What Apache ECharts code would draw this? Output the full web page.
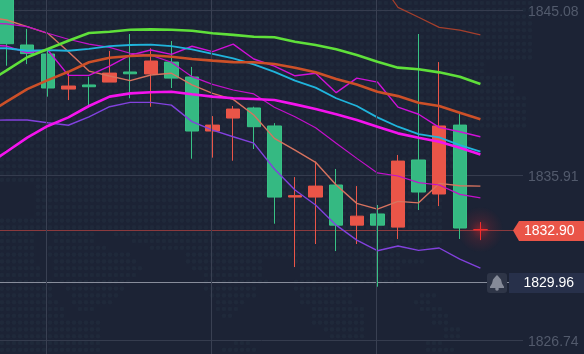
<!DOCTYPE html>
<html><head><meta charset="utf-8">
<style>html,body{margin:0;padding:0;background:#1c2335}#c{width:584px;height:354px}</style>
<script src="https://cdn.jsdelivr.net/npm/echarts@6/dist/echarts.min.js"></script>
</head><body><div id="c"></div>
<script>
const yTop = 1845.66, yBottom = 1825.99;
const tickValues = [1845.08, 1835.91, 1826.74];
const lastPrice = 1832.90;
const alertPrice = 1829.96;
const crossCandles = [3, 11, 19];
const categories = ['c0','c1','c2','c3','c4','c5','c6','c7','c8','c9','c10','c11','c12','c13','c14','c15','c16','c17','c18','c19','c20','c21','c22','c23','c24'];
// open, close, low, high
const candles = ['-',
 [1845.94,1843.23,1842.01,1846.22],[1843.16,1842.68,1842.10,1844.05],[1842.66,1840.77,1840.29,1842.94],
 [1840.71,1840.88,1840.10,1841.67],[1840.94,1840.84,1839.77,1841.40],[1841.10,1841.60,1841.10,1842.83],
 [1841.66,1841.56,1840.20,1843.77],[1841.55,1842.27,1839.73,1842.98],[1842.21,1841.32,1840.77,1843.38],
 [1841.38,1838.38,1836.84,1841.94],[1838.38,1838.71,1836.90,1839.21],[1839.10,1839.60,1836.73,1839.77],
 [1839.66,1838.62,1837.38,1839.73],[1838.66,1834.71,1833.23,1838.82],[1834.71,1834.79,1830.82,1835.82],
 [1834.71,1835.32,1832.10,1836.69],[1835.38,1833.15,1831.71,1836.27],[1833.15,1833.65,1832.10,1835.32],
 [1833.77,1833.15,1829.73,1834.27],[1833.04,1836.71,1832.38,1837.05],[1836.77,1834.99,1833.99,1843.77],
 [1834.88,1838.66,1834.21,1842.21],[1838.71,1832.99,1832.38,1839.32],[1832.90,1832.90,1832.32,1833.32]];
const maGreen = [1841.05,1841.75,1842.48,1842.94,1843.40,1843.83,1843.90,1844.01,1844.03,1844.01,1843.95,1843.81,1843.72,1843.62,1843.59,1843.34,1843.16,1842.92,1842.60,1842.23,1841.90,1841.81,1841.64,1841.40,1840.99];
const maOrange = [1839.31,1840.01,1840.71,1841.21,1841.67,1842.20,1842.45,1842.55,1842.59,1842.51,1842.38,1842.29,1842.21,1842.20,1842.10,1841.90,1841.64,1841.27,1840.97,1840.56,1840.32,1839.95,1839.77,1839.40,1839.03];
const maCyan = [1842.98,1842.98,1842.84,1842.88,1842.84,1842.95,1843.10,1843.16,1843.18,1843.10,1842.92,1842.66,1842.42,1842.08,1841.67,1841.18,1840.79,1840.20,1839.77,1839.14,1838.62,1838.21,1838.03,1837.60,1837.23];
const maMagenta = [1836.46,1837.23,1838.01,1838.66,1839.14,1839.77,1840.29,1840.47,1840.53,1840.56,1840.42,1840.29,1840.20,1840.16,1840.10,1839.86,1839.60,1839.31,1838.99,1838.62,1838.25,1838.01,1837.78,1837.45,1837.08];
const bandViolet = [1838.97,1838.99,1838.99,1838.84,1838.70,1839.17,1839.73,1839.97,1839.97,1839.82,1838.90,1838.43,1838.06,1837.71,1836.27,1835.10,1834.27,1833.15,1832.32,1831.73,1831.99,1831.75,1831.88,1831.26,1830.76];
const bandSalmon = [1844.72,1844.55,1844.18,1843.81,1842.79,1841.71,1841.44,1841.18,1841.49,1841.59,1840.94,1840.47,1840.14,1839.27,1837.97,1837.32,1836.64,1835.38,1834.36,1834.04,1834.47,1834.39,1835.47,1835.34,1835.32];
const thinMagentaA = [1843.16,1843.10,1842.73,1842.88,1841.47,1841.47,1841.99,1842.60,1842.88,1842.64,1843.09,1842.79,1843.21,1842.38,1841.99,1841.45,1841.59,1840.51,1841.32,1841.10,1839.71,1839.31,1838.58,1838.34,1838.06];
const thinMagentaB = [1844.38,1844.33,1844.18,1843.81,1843.48,1843.21,1843.03,1842.70,1842.60,1842.20,1841.40,1840.97,1840.66,1840.44,1839.70,1839.17,1838.56,1837.70,1836.86,1836.05,1835.88,1835.51,1835.38,1834.86,1834.67];
const upperRed = [null,null,null,null,null,null,null,null,null,null,null,null,null,null,null,null,null,null,null,1846.88,1845.25,1844.70,1844.14,1843.99,1843.72];
// background dot map: [first row, last row, column ranges]
const dotBands = [
 [0,8,[[0,88]]],[9,10,[[0,80]]],[11,13,[[0,85]]],[14,18,[[0,87]]],[19,22,[[0,78]]],[23,24,[[0,75]]],[25,26,[[0,73]]],
 [27,31,[[6,73]]],[32,33,[[0,73]]],
 [34,34,[[0,5],[9,15],[19,73]]],[35,35,[[0,5],[9,15],[22,73]]],[36,36,[[0,5],[8,17],[25,72]]],
 [37,37,[[0,5],[8,18],[19,21],[31,66]]],[38,38,[[0,5],[9,22],[31,43],[49,70]]],[39,39,[[0,6],[9,23],[32,43],[50,66]]],
 [40,40,[[0,6],[9,22],[34,43],[50,66]]],[41,41,[[0,8],[10,21],[34,44],[49,52],[55,66]]],[42,42,[[0,8],[11,20],[34,42],[49,58]]],
 [43,43,[[0,8],[12,19],[35,42],[50,58],[70,72]]],[44,44,[[0,9],[12,18],[36,40],[50,58],[69,71]]],[45,45,[[0,10],[13,15],[36,39],[52,60],[70,73]]],
 [46,46,[[0,10],[37,38],[52,60],[72,74]]],[47,47,[[0,16],[52,60],[72,74]]],[48,48,[[0,16],[54,60],[74,76]]],
 [49,49,[[0,16],[55,60],[74,76]]],[50,50,[[0,16],[39,41],[71,73]]],[51,51,[[0,16],[37,42],[71,75]]]
];
const dots = [];
dotBands.forEach(([a,b,runs]) => { for (let r=a;r<=b;r++) runs.forEach(([s,e]) => { for (let c=s;c<=e;c++) dots.push([c,r]); }); });

const GREEN='#35b982', GREEN_WICK='#38c285', RED='#ea5548', HOT='#f52c2c';
const chart = echarts.init(document.getElementById('c'), null, {renderer:'canvas'});
const ln = (name,data,color,width,z) => ({name,type:'line',data,xAxisIndex:0,yAxisIndex:0,symbol:'none',smooth:false,connectNulls:false,
  lineStyle:{color,width},z:z||4,silent:true,animation:false});
const candleData = candles.map((c,i) => i === candles.length-1
  ? {value:c,itemStyle:{color:HOT,color0:HOT,borderColor:HOT,borderColor0:HOT,borderColorDoji:HOT}} : c);
chart.setOption({
  animation:false,
  backgroundColor:'#1c2335',
  textStyle:{fontFamily:'"Liberation Sans",Arial,sans-serif'},
  grid:[
    {left:-24.3,top:0,width:515,height:354,outerBoundsMode:'none',containLabel:false},
    {left:0,top:0,width:523,height:354,outerBoundsMode:'none',containLabel:false},
    {left:0,top:0,width:582,height:353.6,outerBoundsMode:'none',containLabel:false},
    {left:-25.6,top:0,width:515,height:354,outerBoundsMode:'none',containLabel:false}
  ],
  xAxis:[
    {type:'category',gridIndex:0,data:categories,show:false,boundaryGap:true},
    {type:'value',gridIndex:1,min:0,max:1,show:false},
    {type:'value',gridIndex:2,min:-0.33,max:96.67,show:false},
    {type:'category',gridIndex:3,data:categories,show:false,boundaryGap:true}
  ],
  yAxis:[
    {type:'value',gridIndex:0,min:yBottom,max:yTop,show:false},
    {type:'value',gridIndex:1,min:yBottom,max:yTop,position:'right',z:1,
     axisLine:{show:false},axisTick:{show:false,customValues:tickValues},
     axisLabel:{show:true,customValues:tickValues,margin:5,verticalAlign:'top',lineHeight:3,color:'#525a6c',fontSize:14,fontFamily:'"Liberation Sans",Arial,sans-serif',formatter:v=>v.toFixed(2)},
     splitLine:{show:true,lineStyle:{color:'#353c4e',width:1}}},
    {type:'value',gridIndex:2,min:0,max:52,inverse:true,show:false},
    {type:'value',gridIndex:3,min:yBottom,max:yTop,show:false}
  ],
  series:[
    {name:'map',type:'scatter',xAxisIndex:2,yAxisIndex:2,data:dots.map(d=>[d[0],d[1]+0.44]),symbolSize:4.6,itemStyle:{color:'#212a3c'},z:-1,silent:true},
    {name:'cross',type:'line',xAxisIndex:3,yAxisIndex:3,data:[],symbol:'none',z:1,silent:true,
     markLine:{silent:true,symbol:'none',label:{show:false},lineStyle:{color:'#394052',width:1,type:'solid'},
       data:crossCandles.map(i=>({xAxis:categories[i]}))}},
    {name:'glow',type:'scatter',xAxisIndex:0,yAxisIndex:0,data:[[categories[24],lastPrice]],symbolSize:46,z:2,silent:true,
     itemStyle:{color:{type:'radial',x:.5,y:.5,r:.5,colorStops:[{offset:0,color:'rgba(235,35,35,0.6)'},{offset:.45,color:'rgba(180,40,50,0.22)'},{offset:1,color:'rgba(160,40,50,0)'}]}}},
    {name:'k',type:'candlestick',xAxisIndex:0,yAxisIndex:0,data:candleData,barWidth:14,z:3,silent:true,
     itemStyle:{color:RED,color0:GREEN,borderColor:RED,borderColor0:GREEN_WICK,borderWidth:1,borderColorDoji:RED}},
    ln('upper',upperRed,'#a53f2c',1.2),
    ln('salmon',bandSalmon,'#d8735f',1.4),
    ln('violet',bandViolet,'#8241dd',1.4),
    ln('thinA',thinMagentaA,'#d010d8',1.4),
    ln('thinB',thinMagentaB,'#c410cc',1.2),
    ln('cyan',maCyan,'#20b4dc',1.8),
    ln('green',maGreen,'#5fe03a',2.6,5),
    ln('orange',maOrange,'#cd5028',2.6,5),
    ln('magenta',maMagenta,'#f513ee',2.6,5)
  ]
});
const py = v => Math.floor(chart.convertToPixel({yAxisIndex:0},v)+0.4)+0.5;
const yL = py(lastPrice), yA = py(alertPrice);
const font = '14px "Liberation Sans",Arial,sans-serif';
const bellPts = [[0,-7.5],[1.5,-6],[4,-3],[5,1],[7,4.2],[7,5.4],[-7,5.4],[-7,4.2],[-5,1],[-4,-3],[-1.5,-6]].map(p=>[497+p[0],yA+p[1]]);
chart.setOption({graphic:[
  {type:'line',z:1,silent:true,shape:{x1:0,y1:yL,x2:514,y2:yL},style:{stroke:'#8a3a3e',lineWidth:1}},
  {type:'line',z:1,silent:true,shape:{x1:0,y1:yA,x2:510,y2:yA},style:{stroke:'#888d9b',lineWidth:1}},
  {type:'polygon',z:20,silent:true,shape:{points:[[513,yL],[519,yL-9.5],[584,yL-9.5],[584,yL+10.5],[519,yL+10.5]]},style:{fill:RED}},
  {type:'text',z:21,silent:true,style:{x:524,y:yL+0.5,text:lastPrice.toFixed(2),fill:'#ffffff',font,textVerticalAlign:'middle'}},
  {type:'rect',z:20,silent:true,shape:{x:487,y:yA-9.5,width:20,height:20,r:3},style:{fill:'#2e3547'}},
  {type:'polygon',z:21,silent:true,shape:{points:bellPts},style:{fill:'#858a98'}},
  {type:'circle',z:21,silent:true,shape:{cx:497,cy:yA+6.4,r:1.8},style:{fill:'#858a98'}},
  {type:'rect',z:20,silent:true,shape:{x:509,y:yA-9.5,width:75,height:20},style:{fill:'#27304a'}},
  {type:'text',z:21,silent:true,style:{x:523.5,y:yA+0.5,text:alertPrice.toFixed(2),fill:'#ffffff',font,textVerticalAlign:'middle'}}
]});
</script></body></html>
